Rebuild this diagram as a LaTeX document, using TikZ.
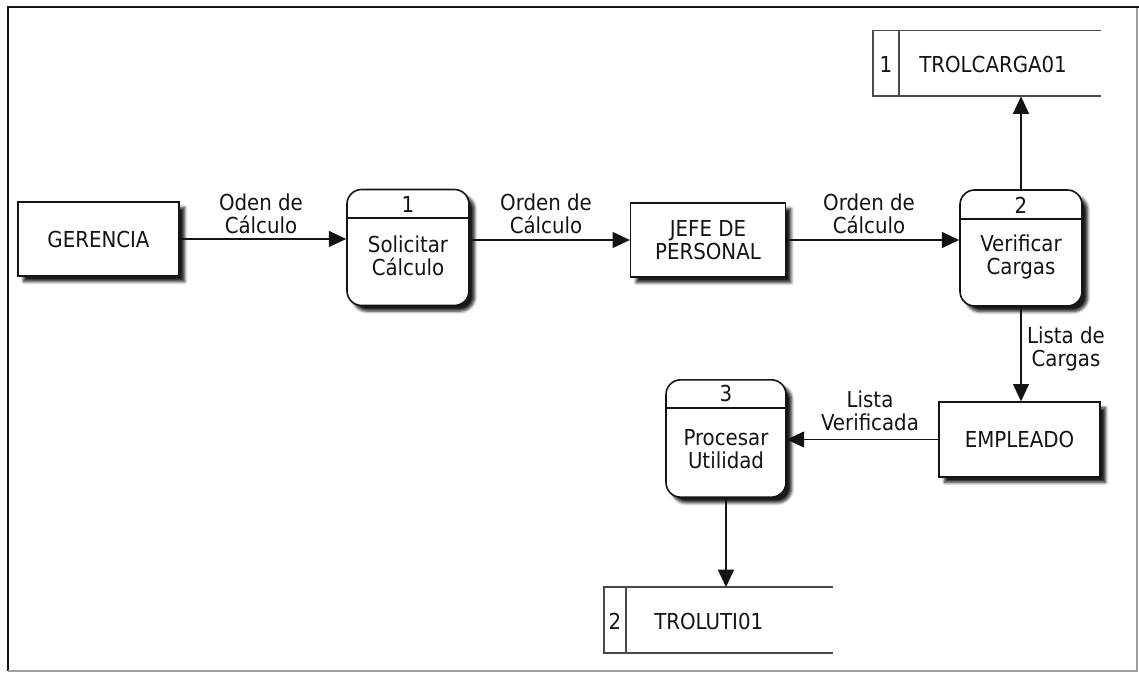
\documentclass[tikz,border=0pt]{standalone}
\usepackage{fontspec}
\setmainfont{DejaVu Sans Condensed}
\usetikzlibrary{arrows.meta,shadows.blur}

\definecolor{ink}{HTML}{141414}
\definecolor{storegray}{HTML}{4A4A4A}

\tikzset{
  txt/.style={font=\fontsize{16.5}{17.5}\selectfont, text=ink, inner sep=0pt, align=center},
  boxshadow/.style={blur shadow={shadow xshift=4.2pt, shadow yshift=-4.2pt,
      shadow blur radius=2.2pt, shadow blur steps=6, shadow opacity=90}},
  entity/.style={draw=ink, line width=1.2pt, fill=white, boxshadow, txt},
  procbox/.style={draw=ink, line width=1.2pt, fill=white, rounded corners=11pt,
      boxshadow, minimum width=91.5pt, minimum height=87pt, inner sep=0pt},
  storebox/.style={minimum width=171pt, minimum height=49pt, inner sep=0pt},
  storeline/.style={draw=storegray, line width=1.4pt},
  flow/.style={draw=ink, line width=0.9pt, -{Triangle[length=13pt,width=12pt]}},
}

\begin{document}
\begin{tikzpicture}[x=0.75pt, y=-0.75pt]
  \useasboundingbox (0,0) rectangle (1139,674);

  % outer frame
  \draw[ink, line width=1.8pt] (1139,7) -- (8,7) -- (8,671);
  \draw[gray!75, line width=1.1pt] (8,671) -- (1137,671) -- (1137,8);

  % external entities
  \node[entity, minimum width=120.75pt, minimum height=55.5pt] (ger) at (98.5,239) {GERENCIA};
  \node[entity, minimum width=116pt, minimum height=55.5pt] (jefe) at (708,240) {JEFE DE\\PERSONAL};
  \node[entity, minimum width=120.75pt, minimum height=56pt] (emp) at (1019.5,439.5) {EMPLEADO};

  % processes
  \node[procbox] (p1) at (408,247.5) {};
  \draw[ink, line width=0.9pt] (347,218) -- (469,218);
  \node[txt] (p1n) at (408,204) {1};
  \node[txt] (p1t) at (408,256) {Solicitar\\Cálculo};

  \node[procbox] (p2) at (1021,248) {};
  \draw[ink, line width=0.9pt] (960,219) -- (1082,219);
  \node[txt] (p2n) at (1021,205) {2};
  \node[txt] (p2t) at (1021,257) {Verificar\\Cargas};

  \node[procbox, minimum width=90pt, minimum height=88pt] (p3) at (726,438.5) {};
  \draw[ink, line width=0.9pt] (666,408) -- (786,408);
  \node[txt] (p3n) at (726,393) {3};
  \node[txt] (p3t) at (726,449) {Procesar\\Utilidad};

  % data stores
  \node[storebox] (s1) at (987,63.5) {};
  \draw[storeline] (s1.north east) -- (s1.north west) -- (s1.south west) -- (s1.south east);
  \draw[storeline] (899,31) -- (899,96);
  \node[txt] (s1n) at (886,64) {1};
  \node[txt, anchor=west] (s1t) at (919,64) {TROLCARGA01};

  \node[storebox, minimum width=171.75pt] (s2) at (718.5,620) {};
  \draw[storeline] (s2.north east) -- (s2.north west) -- (s2.south west) -- (s2.south east);
  \draw[storeline] (626,587) -- (626,653);
  \node[txt] (s2n) at (615,621) {2};
  \node[txt, anchor=west] (s2t) at (654,621) {TROLUTI01};

  % data flows
  \draw[flow] (ger.east) -- (ger.east -| p1.west);
  \draw[flow] (p1.east |- jefe.west) -- (jefe.west);
  \draw[flow] (jefe.east) -- (jefe.east -| p2.west);
  \draw[flow] (p2.north) -- (p2.north |- s1.south);
  \draw[flow] (p2.south) -- (p2.south |- emp.north);
  \draw[flow] (emp.west) -- (emp.west -| p3.east);
  \draw[flow] (p3.south) -- (p3.south |- s2.north);

  % flow labels
  \node[txt] (l1) at (261,214) {Oden de\\Cálculo};
  \node[txt] (l2) at (546,214) {Orden de\\Cálculo};
  \node[txt] (l3) at (869,214) {Orden de\\Cálculo};
  \node[txt] (l4) at (1066,349) {Lista de\\Cargas};
  \node[txt] (l5) at (870,411) {Lista\\Verificada};
\end{tikzpicture}
\end{document}
